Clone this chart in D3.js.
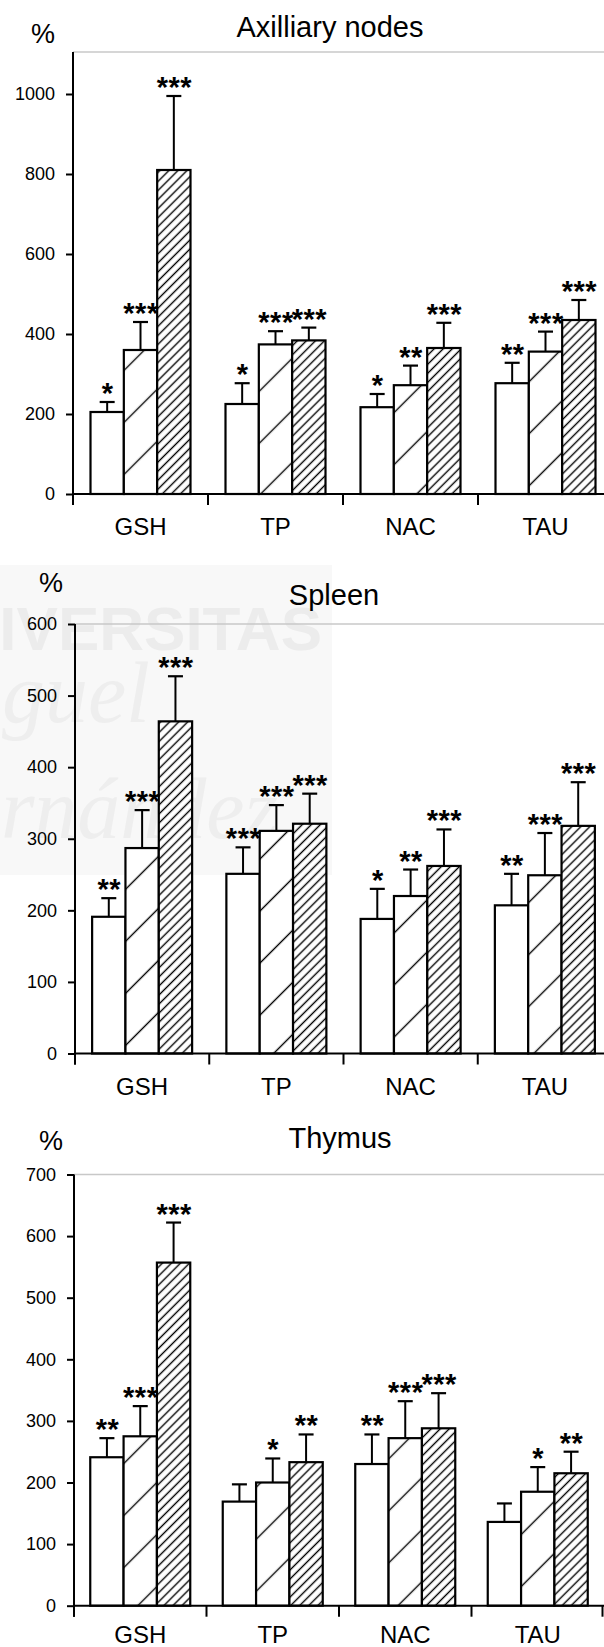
<!DOCTYPE html>
<html>
<head>
<meta charset="utf-8">
<script src="https://cdn.jsdelivr.net/npm/d3@7"></script>
<style>
body { margin: 0; background: #fff; }
svg { display: block; }
text { font-family: "Liberation Sans", Arial, sans-serif; fill: #000; }
</style>
</head>
<body>
<svg id="chart"></svg>
<script>
// categories and the three series per category (open, sparse hatch, dense hatch)
var categories = ["GSH", "TP", "NAC", "TAU"];

// Axilliary nodes
var axMeans = [[205, 360, 810], [225, 374, 384], [217, 272, 365], [277, 356, 435]];
var axErr = [[25, 70, 185], [52, 33, 32], [33, 49, 63], [51, 50, 50]];
var axStars = [["*", "***", "***"], ["*", "***", "***"], ["*", "**", "***"], ["**", "***", "***"]];
var axTicks = [0, 200, 400, 600, 800, 1000];

// Spleen
var spMeans = [[191, 287, 464], [251, 311, 321], [188, 220, 262], [207, 249, 318]];
var spErr = [[26, 53, 63], [37, 36, 42], [42, 37, 51], [44, 59, 61]];
var spStars = [["**", "***", "***"], ["***", "***", "***"], ["*", "**", "***"], ["**", "***", "***"]];
var spTicks = [0, 100, 200, 300, 400, 500, 600];

// Thymus
var thMeans = [[241, 275, 557], [169, 200, 233], [230, 272, 288], [136, 185, 215]];
var thErr = [[31, 49, 65], [28, 39, 45], [48, 60, 57], [30, 40, 35]];
var thStars = [["**", "***", "***"], ["", "*", "**"], ["**", "***", "***"], ["", "*", "**"]];
var thTicks = [0, 100, 200, 300, 400, 500, 600, 700];

var w = 604;
var h = 1647;
var fills = ["#fff", "url(#sparse)", "url(#dense)"];

var svg = d3.select("#chart").attr("width", w).attr("height", h);

// hatch patterns
var defs = svg.append("defs");
var mkPattern = function(id, step, sw) {
    var p = defs.append("pattern")
        .attr("id", id)
        .attr("patternUnits", "userSpaceOnUse")
        .attr("width", step)
        .attr("height", step)
        .attr("patternTransform", "rotate(45)");
    p.append("rect").attr("width", step).attr("height", step).attr("fill", "#fff");
    p.append("line")
        .attr("x1", step / 2).attr("x2", step / 2)
        .attr("y1", 0).attr("y2", step)
        .attr("stroke", "#000")
        .attr("stroke-width", sw);
};
mkPattern("sparse", 36.8, 1.4);
mkPattern("dense", 6.4, 1.4);

// faint repository watermark behind the spleen panel
var wm = svg.append("g");
wm.append("rect").attr("x", 0).attr("y", 565).attr("width", 332).attr("height", 310).attr("fill", "#f8f8f8");
wm.append("text").attr("x", 322).attr("y", 650).attr("text-anchor", "end")
    .style("font-size", "62px").style("font-weight", "bold").style("fill", "#ececec")
    .text("UNIVERSITAS");
wm.append("text").attr("x", 150).attr("y", 722).attr("text-anchor", "end")
    .style("font-family", "'Liberation Serif', serif").style("font-style", "italic")
    .style("font-size", "86px").style("fill", "#eeeeee")
    .text("Miguel");
wm.append("text").attr("x", 278).attr("y", 838).attr("text-anchor", "end")
    .style("font-family", "'Liberation Serif', serif").style("font-style", "italic")
    .style("font-size", "86px").style("fill", "#eeeeee")
    .text("Hernández");

/**
 * Draw one panel.
 */
var drawPanel = function(cfg, means, errs, stars, ticks) {
    var g = svg.append("g");

    var x = d3.scaleBand()
        .domain(categories)
        .range([cfg.x0, cfg.x1]);
    var groupW = 100;
    var xs = d3.scaleBand()
        .domain([0, 1, 2])
        .range([0, groupW]);
    var y = d3.scaleLinear()
        .domain([0, cfg.max])
        .range([cfg.base, cfg.top]);
    var off = (x.bandwidth() - groupW) / 2;

    // light frame line at top
    g.append("line")
        .attr("x1", cfg.x0).attr("x2", w)
        .attr("y1", cfg.top).attr("y2", cfg.top)
        .attr("stroke", "#c8c8c8").attr("stroke-width", 1.5);

    // titles
    g.append("text")
        .attr("x", cfg.pctX).attr("y", cfg.pctY)
        .attr("text-anchor", "middle")
        .style("font-size", "27px")
        .text("%");
    g.append("text")
        .attr("x", cfg.titleX).attr("y", cfg.titleY)
        .attr("text-anchor", "middle")
        .style("font-size", "29px")
        .text(cfg.title);

    var rows = [];
    categories.forEach(function(c, ci) {
        means[ci].forEach(function(v, si) {
            rows.push({c: c, s: si, v: v, e: errs[ci][si], star: stars[ci][si]});
        });
    });

    var bx = function(d) { return x(d.c) + off + xs(d.s); };

    // error bars (upper only)
    var eb = g.selectAll(".err").data(rows).enter().append("g").attr("class", "err");
    eb.append("line")
        .attr("x1", function(d) { return bx(d) + xs.bandwidth() / 2; })
        .attr("x2", function(d) { return bx(d) + xs.bandwidth() / 2; })
        .attr("y1", function(d) { return y(d.v); })
        .attr("y2", function(d) { return y(d.v + d.e); })
        .attr("stroke", "#000").attr("stroke-width", 2);
    eb.append("line")
        .attr("x1", function(d) { return bx(d) + xs.bandwidth() / 2 - 7.5; })
        .attr("x2", function(d) { return bx(d) + xs.bandwidth() / 2 + 7.5; })
        .attr("y1", function(d) { return y(d.v + d.e); })
        .attr("y2", function(d) { return y(d.v + d.e); })
        .attr("stroke", "#000").attr("stroke-width", 2.2);

    // bars
    g.selectAll(".bar").data(rows).enter().append("rect")
        .attr("class", "bar")
        .attr("x", bx)
        .attr("width", xs.bandwidth())
        .attr("y", function(d) { return y(d.v); })
        .attr("height", function(d) { return y(0) - y(d.v); })
        .attr("fill", function(d) { return fills[d.s]; })
        .attr("stroke", "#000")
        .attr("stroke-width", 2.2);

    // significance marks
    g.selectAll(".star").data(rows).enter().append("text")
        .attr("class", "star")
        .attr("x", function(d) { return bx(d) + xs.bandwidth() / 2 + 0.5; })
        .attr("y", function(d) { return y(d.v + d.e) + 1; })
        .attr("text-anchor", "middle")
        .style("font-size", "29px")
        .style("font-weight", "bold")
        .style("letter-spacing", "0.5px")
        .text(function(d) { return d.star; });

    // y axis
    var ya = g.append("g")
        .attr("transform", "translate(" + cfg.x0 + ",0)")
        .call(d3.axisLeft(y).tickValues(ticks).tickSize(7).tickPadding(11).tickFormat(d3.format("d")));
    ya.select(".domain").remove();
    ya.selectAll("line").attr("stroke", "#000").attr("stroke-width", 2);
    ya.selectAll("text").style("font-size", "18px").style("font-family", "'Liberation Sans', Arial, sans-serif");
    g.append("line")
        .attr("x1", cfg.x0).attr("x2", cfg.x0)
        .attr("y1", cfg.top).attr("y2", cfg.base + 11)
        .attr("stroke", "#000").attr("stroke-width", 2);

    // x axis
    g.append("line")
        .attr("x1", cfg.x0).attr("x2", w)
        .attr("y1", cfg.base).attr("y2", cfg.base)
        .attr("stroke", "#000").attr("stroke-width", 2);
    var bounds = categories.map(function(c) { return x(c); }).concat([cfg.x1]);
    g.selectAll(".xt").data(bounds.filter(function(b) { return b <= w; })).enter().append("line")
        .attr("x1", function(d) { return Math.min(d, w - 1.5); })
        .attr("x2", function(d) { return Math.min(d, w - 1.5); })
        .attr("y1", cfg.base).attr("y2", cfg.base + 11)
        .attr("stroke", "#000").attr("stroke-width", 2);
    g.selectAll(".xl").data(categories).enter().append("text")
        .attr("x", function(d) { return x(d) + x.bandwidth() / 2; })
        .attr("y", cfg.labelY)
        .attr("text-anchor", "middle")
        .style("font-size", "24px")
        .text(function(d) { return d; });
};

drawPanel({title: "Axilliary nodes", x0: 73, x1: 613, top: 52, base: 494, max: 1105,
    pctX: 43, pctY: 43, titleX: 330, titleY: 37, labelY: 535},
    axMeans, axErr, axStars, axTicks);
drawPanel({title: "Spleen", x0: 75, x1: 612, top: 624, base: 1053.5, max: 600,
    pctX: 51, pctY: 592, titleX: 334, titleY: 605, labelY: 1095},
    spMeans, spErr, spStars, spTicks);
drawPanel({title: "Thymus", x0: 74, x1: 604, top: 1174.5, base: 1605.7, max: 700,
    pctX: 51, pctY: 1150, titleX: 340, titleY: 1148, labelY: 1643},
    thMeans, thErr, thStars, thTicks);
</script>
</body>
</html>
